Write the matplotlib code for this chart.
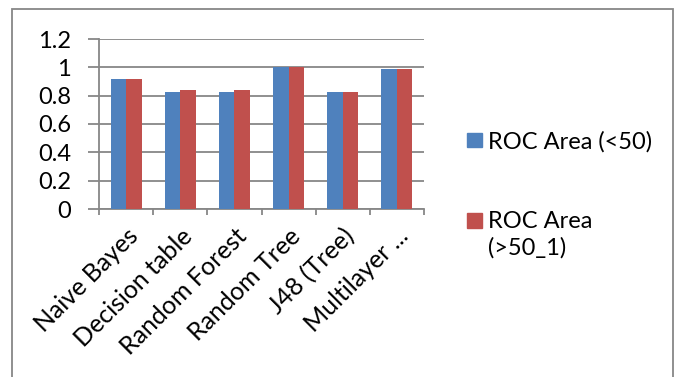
import numpy as np
import matplotlib.pyplot as plt
from matplotlib.patches import Rectangle

# data
categories = ["Naive Bayes", "Decision table", "Random Forest",
              "Random Tree", "J48 (Tree)", "Multilayer ..."]
roc_lt50 = [0.918, 0.829, 0.829, 1.0, 0.829, 0.991]
roc_gt50 = [0.918, 0.841, 0.841, 1.0, 0.829, 0.986]
series_names = ["ROC Area (<50)", "ROC Area\n(>50_1)"]
colors = ["#4F81BD", "#C0504D"]

plt.rcParams['font.family'] = ['Lato', 'DejaVu Sans']

W, H = 674, 377
fig = plt.figure(figsize=(W / 100, H / 100), dpi=100)
ax = fig.add_axes([99 / W, 1 - 209 / H, (424 - 99) / W, (209 - 39) / H])

x = np.arange(len(categories))
bw = 0.285
ax.bar(x - bw / 2, roc_lt50, bw, color=colors[0], zorder=3)
ax.bar(x + bw / 2, roc_gt50, bw, color=colors[1], zorder=3)

ax.set_xlim(-0.5, len(categories) - 0.5)
ax.set_ylim(0, 1.2)
ax.set_yticks([0, 0.2, 0.4, 0.6, 0.8, 1.0, 1.2])
ax.set_yticklabels(["0", "0.2", "0.4", "0.6", "0.8", "1", "1.2"], fontsize=17)
ax.yaxis.grid(True, color="#878787", linewidth=1.3, zorder=0)

# ticks between categories on the x axis
ax.set_xticks(np.arange(-0.5, len(categories), 1))
ax.set_xticklabels([])
ax.set_xticks(x, minor=True)
ax.set_xticklabels(categories, minor=True, rotation=45, ha="right",
                   rotation_mode="anchor", fontsize=18)
ax.tick_params(axis="x", which="minor", length=0, pad=11)
ax.tick_params(axis="x", which="major", length=4, color="#878787", width=1.3)
ax.tick_params(axis="y", length=8, color="#878787", width=1.3, pad=12)

for s in ["top", "right"]:
    ax.spines[s].set_visible(False)
for s in ["left", "bottom"]:
    ax.spines[s].set_color("#878787")
    ax.spines[s].set_linewidth(1.3)

# legend, drawn like the spreadsheet one (marker beside the first text line)
legend_rows = [140, 220]
for name, c, yc in zip(series_names, colors, legend_rows):
    fig.patches.append(Rectangle((467 / W, 1 - (yc + 7.5) / H), 15 / W, 15 / H,
                                 transform=fig.transFigure, color=c))
    fig.text(488 / W, 1 - (yc - 9) / H, name, fontsize=17, va="top",
             ha="left", linespacing=1.3)

# outer chart border
fig.patches.append(Rectangle((12 / W, -0.1), (673 - 12) / W, 1.1 - 9 / H,
                             transform=fig.transFigure, fill=False,
                             edgecolor="#878787", linewidth=1.3))

fig.savefig("out.png", dpi=100)
